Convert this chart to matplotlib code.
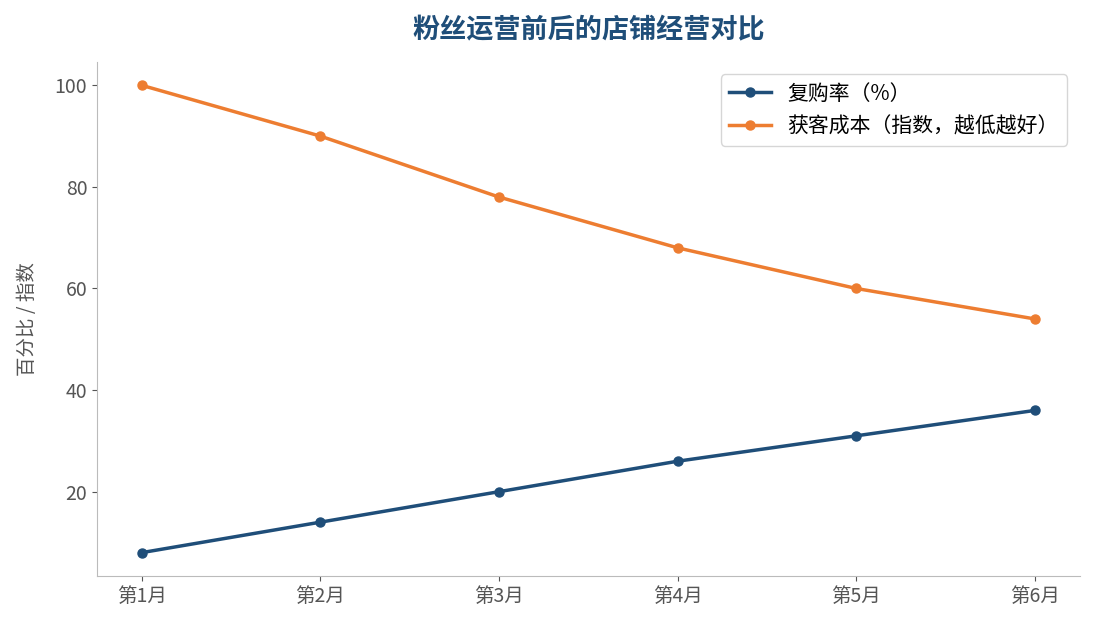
import matplotlib
matplotlib.use('Agg')
import matplotlib.pyplot as plt

plt.rcParams['font.family'] = ['Noto Sans CJK SC', 'DejaVu Sans']

months = ['第1月', '第2月', '第3月', '第4月', '第5月', '第6月']
repurchase = [8, 14, 20, 26, 31, 36]
cost_index = [100, 90, 78, 68, 60, 54]

blue = '#1f4e79'
orange = '#ed7d31'
grey = '#555555'

fig = plt.figure(figsize=(10.95, 6.3), dpi=100)
ax = fig.add_axes([0.0886, 0.0857, 0.8974, 0.816])

x = range(len(months))
ax.plot(x, repurchase, color=blue, lw=2.5, marker='o', ms=6.5, label='复购率（%）')
ax.plot(x, cost_index, color=orange, lw=2.5, marker='o', ms=6.5, label='获客成本（指数，越低越好）')

ax.set_xticks(list(x))
ax.set_xticklabels(months)
ax.set_yticks([20, 40, 60, 80, 100])
ax.tick_params(colors=grey, labelsize=14, color='#555555')
ax.set_ylabel('百分比 / 指数', color=grey, fontsize=14, labelpad=12)

for s in ['top', 'right']:
    ax.spines[s].set_visible(False)
for s in ['left', 'bottom']:
    ax.spines[s].set_color('#bbbbbb')

ax.set_title('粉丝运营前后的店铺经营对比', color=blue, fontsize=19.5, fontweight='bold', pad=17)
ax.legend(loc='upper right', fontsize=15, frameon=True, edgecolor='#cccccc',
          borderaxespad=0.6, handlelength=2.0)

fig.savefig('out.png', dpi=100)
